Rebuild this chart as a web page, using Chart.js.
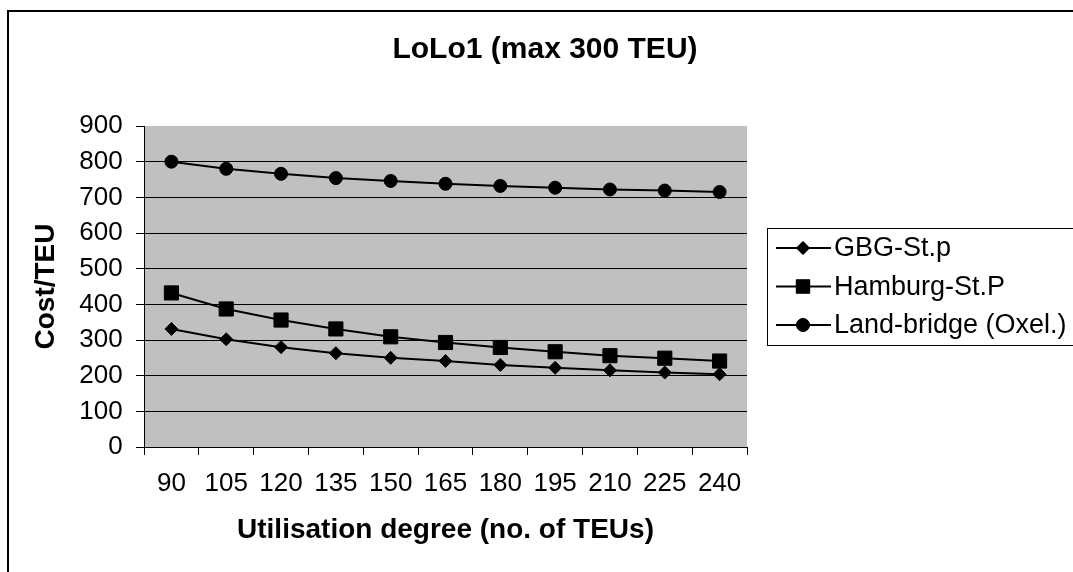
<!DOCTYPE html>
<html>
<head>
<meta charset="utf-8">
<script src="https://cdn.jsdelivr.net/npm/chart.js@4/dist/chart.umd.min.js"></script>
<style>
  html, body { margin: 0; padding: 0; background: #fff; }
  #wrap { width: 1073px; height: 572px; position: relative; }
</style>
</head>
<body>
<div id="wrap"><canvas id="lolo1Chart" width="1073" height="572"></canvas></div>
<script>
const utilisation = ['90', '105', '120', '135', '150', '165', '180', '195', '210', '225', '240'];
const gbgStp = [331, 302, 280, 263, 250, 241, 230, 222, 215, 209, 204];
const hamburgStP = [432, 387, 356, 331, 309, 293, 279, 267, 256, 249, 241];
const landBridge = [800, 780, 766, 754, 746, 738, 732, 727, 722, 719, 715];
const yTicks = [0, 100, 200, 300, 400, 500, 600, 700, 800, 900];
const chartTitle = 'LoLo1 (max 300 TEU)';

const fontFam = '"Liberation Sans", Arial, sans-serif';

// grey plot area, outer frame and the title (centred on the whole frame, not the plot)
const backdrop = {
    id: 'backdrop',
    beforeDraw(chart) {
        const { ctx, chartArea: a } = chart;
        ctx.save();
        ctx.fillStyle = '#fff';
        ctx.fillRect(0, 0, chart.width, chart.height);
        ctx.strokeStyle = '#000';
        ctx.lineWidth = 2;
        ctx.beginPath();
        ctx.moveTo(8, chart.height + 5);
        ctx.lineTo(8, 11);
        ctx.lineTo(chart.width + 5, 11);
        ctx.stroke();
        ctx.fillStyle = '#c0c0c0';
        ctx.fillRect(a.left, a.top, a.right - a.left, a.bottom - a.top);
        ctx.fillStyle = '#000';
        ctx.font = 'bold 30px ' + fontFam;
        ctx.textAlign = 'center';
        ctx.textBaseline = 'middle';
        ctx.fillText(chartTitle, 545, 50);
        ctx.restore();
    }
};

// excel style legend box with line + marker samples
const boxLegend = {
    id: 'boxLegend',
    afterDraw(chart) {
        const ctx = chart.ctx;
        const x0 = 767, y0 = 228, rowH = 38.5;
        ctx.save();
        ctx.strokeStyle = '#000';
        ctx.lineWidth = 1;
        ctx.strokeRect(x0 + 0.5, y0 + 0.5, 340, 117);
        ctx.font = '27px ' + fontFam;
        ctx.textBaseline = 'middle';
        ctx.fillStyle = '#000';
        chart.data.datasets.forEach((ds, i) => {
            const y = y0 + 20 + i * rowH;
            ctx.lineWidth = 2;
            ctx.beginPath();
            ctx.moveTo(776, y);
            ctx.lineTo(831, y);
            ctx.stroke();
            ctx.lineWidth = 1;
            Chart.helpers.drawPoint(ctx, {
                pointStyle: ds.pointStyle,
                radius: ds.pointStyle === 'rect' ? 9.5 : 6.5,
                borderWidth: 1,
                rotation: 0
            }, 803, y);
            ctx.fill();
            ctx.fillText(ds.label, 834, y + 1);
        });
        ctx.restore();
    }
};

new Chart(document.getElementById('lolo1Chart'), {
    type: 'line',
    data: {
        labels: utilisation,
        datasets: [
            { label: 'GBG-St.p', data: gbgStp, pointStyle: 'rectRot', pointRadius: 6.5 },
            { label: 'Hamburg-St.P', data: hamburgStP, pointStyle: 'rect', pointRadius: 10 },
            { label: 'Land-bridge (Oxel.)', data: landBridge, pointStyle: 'circle', pointRadius: 6.5 }
        ].map(d => Object.assign(d, {
            borderColor: '#000',
            backgroundColor: '#000',
            pointBackgroundColor: '#000',
            pointBorderColor: '#000',
            borderWidth: 2,
            pointBorderWidth: 1,
            tension: 0
        }))
    },
    options: {
        responsive: false,
        animation: false,
        layout: { padding: { left: 0, top: 126, right: 326, bottom: 0 } },
        plugins: {
            legend: { display: false },
            tooltip: { enabled: false },
            title: { display: false }
        },
        scales: {
            x: {
                offset: true,
                grid: { offset: true, drawOnChartArea: false, drawTicks: true, tickLength: 8, color: '#000' },
                border: { color: '#000', width: 1 },
                ticks: { color: '#000', font: { family: fontFam, size: 26 }, padding: 13.4, maxRotation: 0, autoSkip: false },
                title: {
                    display: true,
                    text: 'Utilisation degree (no. of TEUs)',
                    color: '#000',
                    font: { family: fontFam, size: 28, weight: 'bold' },
                    padding: { top: 0, bottom: 25.2 }
                },
                afterFit(scale) { scale.height = 125; }
            },
            y: {
                min: yTicks[0],
                max: yTicks[yTicks.length - 1],
                afterBuildTicks(scale) { scale.ticks = yTicks.map(v => ({ value: v })); },
                grid: {
                    color: c => (c.tick && c.tick.value === 900) ? 'rgba(0,0,0,0)' : '#000',
                    tickColor: '#000',
                    tickLength: 8,
                    lineWidth: 1
                },
                border: { color: '#000', width: 1 },
                ticks: { color: '#000', font: { family: fontFam, size: 26 }, padding: 13.3 },
                title: {
                    display: true,
                    text: 'Cost/TEU',
                    color: '#000',
                    font: { family: fontFam, size: 28, weight: 'bold' },
                    padding: { top: 29.2, bottom: 0 }
                },
                afterFit(scale) { scale.width = 144; }
            }
        }
    },
    plugins: [backdrop, boxLegend]
});
</script>
</body>
</html>
